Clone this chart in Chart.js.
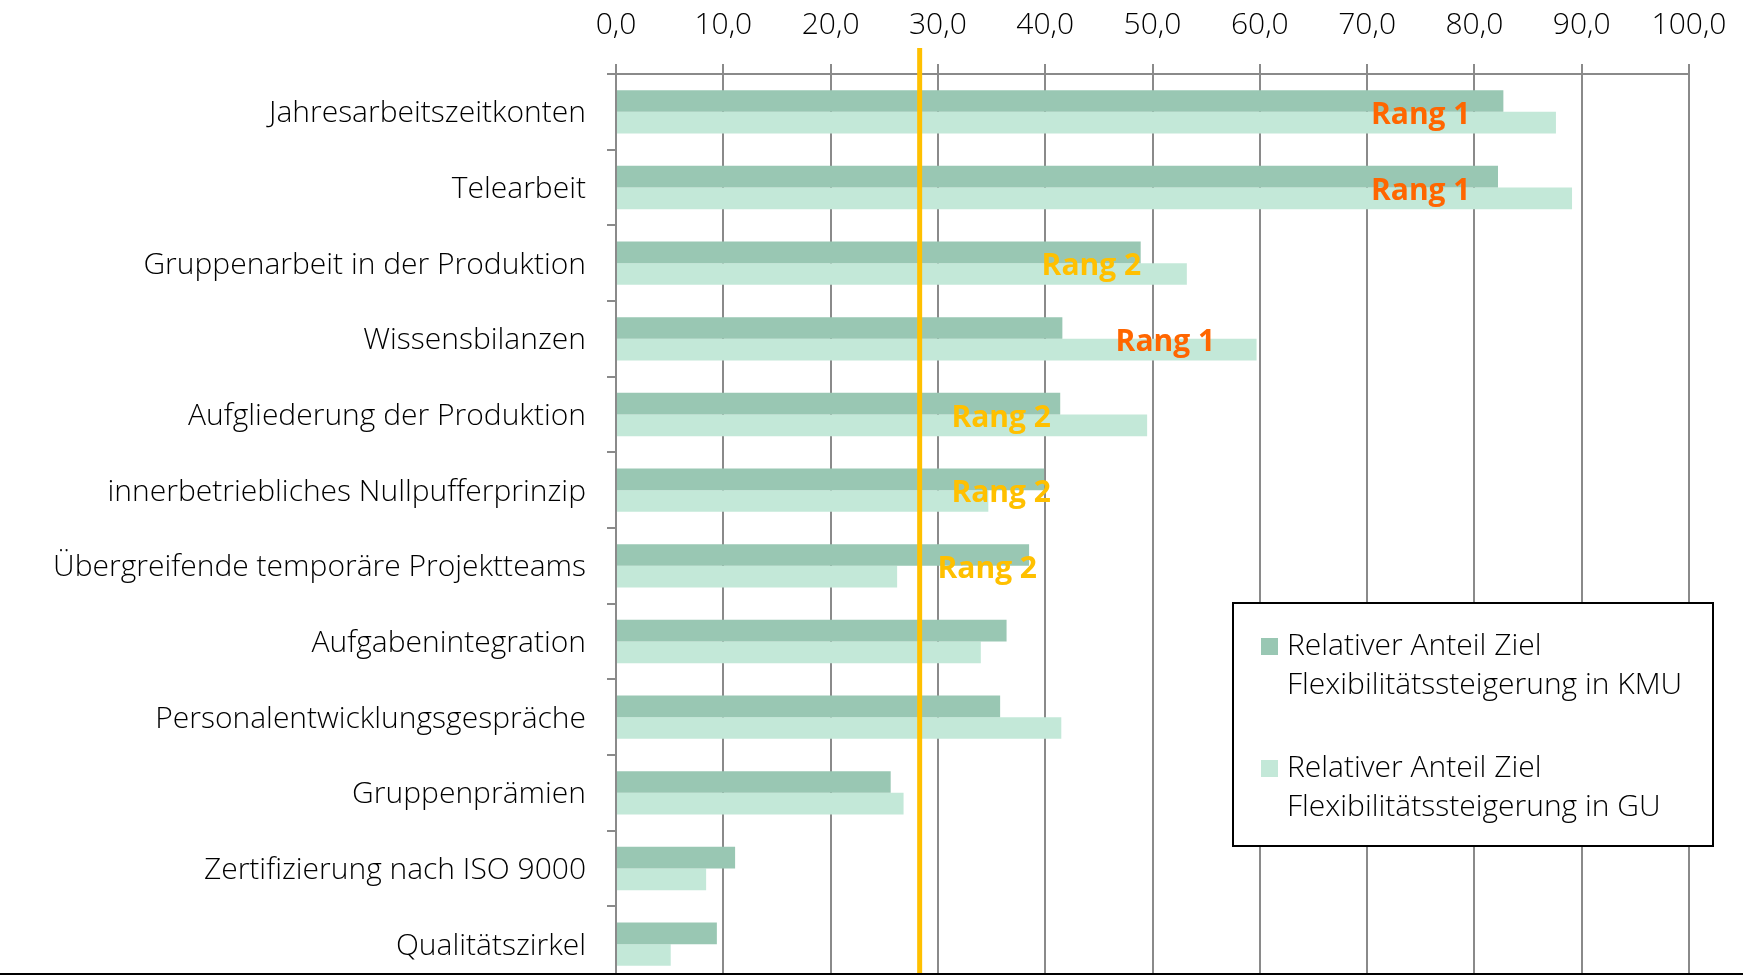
<!DOCTYPE html>
<html lang="de">
<head>
<meta charset="utf-8">
<title>Ziel Flexibilitätssteigerung – KMU und GU</title>
<script src="https://cdn.jsdelivr.net/npm/chart.js@4.4.1/dist/chart.umd.min.js"></script>
<style>
  html, body { margin: 0; padding: 0; background: #ffffff; overflow: hidden; }
  #chart { display: block; }
</style>
</head>
<body>
<canvas id="chart" width="1743" height="990"></canvas>
<script>
// ---- data -------------------------------------------------------------
const categories = [
  'Jahresarbeitszeitkonten',
  'Telearbeit',
  'Gruppenarbeit in der Produktion',
  'Wissensbilanzen',
  'Aufgliederung der Produktion',
  'innerbetriebliches Nullpufferprinzip',
  'Übergreifende temporäre Projektteams',
  'Aufgabenintegration',
  'Personalentwicklungsgespräche',
  'Gruppenprämien',
  'Zertifizierung nach ISO 9000',
  'Qualitätszirkel'
];
const kmuValues = [82.7, 82.2, 48.9, 41.6, 41.4, 39.9, 38.5, 36.4, 35.8, 25.6, 11.1, 9.4];
const guValues  = [87.6, 89.1, 53.2, 59.7, 49.5, 34.7, 26.2, 34.0, 41.5, 26.8, 8.4, 5.1];
const kmuLegend = ['Relativer Anteil Ziel', 'Flexibilitätssteigerung in KMU'];
const guLegend  = ['Relativer Anteil Ziel', 'Flexibilitätssteigerung in GU'];
const xTickValues = [0, 10, 20, 30, 40, 50, 60, 70, 80, 90, 100];
// rank annotations: text and where it sits on the value axis (label centre)
const rankText   = ['Rang 1', 'Rang 1', 'Rang 2', 'Rang 1', 'Rang 2', 'Rang 2', 'Rang 2', '', '', '', '', ''];
const rankAnchor = [75.0, 75.0, 44.3, 51.2, 35.9, 35.9, 34.6, null, null, null, null, null];
// overall average shown as a vertical marker line
const averageValue = 28.3;

// ---- styling ----------------------------------------------------------
const FONT = '"Open Sans", "Noto Sans", "DejaVu Sans", sans-serif';
const GRID = '#8a8a8a';
const KMU_COLOR = '#99c7b3';
const GU_COLOR = '#c3e8d8';
const RANK_COLORS = { 'Rang 1': '#ff6600', 'Rang 2': '#ffc000' };
const LINE_COLOR = '#ffc000';

// vertical average line, drawn over the bars
const averageLinePlugin = {
  id: 'averageLine',
  afterDatasetsDraw(chart) {
    const { ctx } = chart;
    const x = chart.scales.x.getPixelForValue(averageValue);
    ctx.save();
    ctx.strokeStyle = LINE_COLOR;
    ctx.lineWidth = 5;
    ctx.beginPath();
    ctx.moveTo(x, 48);
    ctx.lineTo(x, chart.height);
    ctx.stroke();
    ctx.restore();
  }
};

// "Rang" annotations placed in data space
const rankLabelPlugin = {
  id: 'rankLabels',
  afterDatasetsDraw(chart) {
    const { ctx } = chart;
    const xs = chart.scales.x, ys = chart.scales.y;
    ctx.save();
    ctx.font = 'bold 30px ' + FONT;
    ctx.textAlign = 'center';
    ctx.textBaseline = 'alphabetic';
    rankText.forEach((t, i) => {
      if (!t || rankAnchor[i] == null) return;
      ctx.fillStyle = RANK_COLORS[t];
      ctx.fillText(t, xs.getPixelForValue(rankAnchor[i]), ys.getPixelForValue(i) + 12);
    });
    ctx.restore();
  }
};

// boxed legend with two-line entries
const boxLegendPlugin = {
  id: 'boxLegend',
  afterDraw(chart) {
    const { ctx } = chart;
    const box = { x: 1233, y: 603, w: 480, h: 243 };
    ctx.save();
    ctx.fillStyle = '#ffffff';
    ctx.fillRect(box.x, box.y, box.w, box.h);
    ctx.strokeStyle = '#000000';
    ctx.lineWidth = 2;
    ctx.strokeRect(box.x, box.y, box.w, box.h);
    ctx.font = '300 30px ' + FONT;
    ctx.textAlign = 'left';
    ctx.textBaseline = 'alphabetic';
    const entries = chart.data.datasets.map(d => ({ lines: d.legendLines, color: d.backgroundColor }));
    const firstBaseline = [655, 777];
    entries.forEach((e, k) => {
      const b = firstBaseline[k];
      ctx.fillStyle = e.color;
      ctx.fillRect(box.x + 28, b - 17, 17, 17);
      ctx.fillStyle = '#000000';
      e.lines.forEach((ln, j) => ctx.fillText(ln, box.x + 54, b + j * 39));
    });
    // frame line along the lower edge
    ctx.fillStyle = '#000000';
    ctx.fillRect(0, 973, chart.width, 2);
    ctx.restore();
  }
};

function draw() {
  new Chart(document.getElementById('chart'), {
    type: 'bar',
    data: {
      labels: categories,
      datasets: [
        { label: kmuLegend.join(' '), legendLines: kmuLegend, data: kmuValues,
          backgroundColor: KMU_COLOR, borderWidth: 0, categoryPercentage: 0.572, barPercentage: 1.0 },
        { label: guLegend.join(' '), legendLines: guLegend, data: guValues,
          backgroundColor: GU_COLOR, borderWidth: 0, categoryPercentage: 0.572, barPercentage: 1.0 }
      ]
    },
    options: {
      indexAxis: 'y',
      responsive: false,
      maintainAspectRatio: false,
      devicePixelRatio: 1,
      animation: false,
      layout: { padding: { left: 0, top: 0, right: 54, bottom: 8 } },
      plugins: { legend: { display: false }, tooltip: { enabled: false } },
      scales: {
        x: {
          position: 'top',
          min: 0, max: 100,
          afterBuildTicks: s => { s.ticks = xTickValues.map(v => ({ value: v })); },
          afterFit: s => { s.height = 74; s.paddingLeft = 0; s.paddingRight = 0; },
          grid: { color: GRID, lineWidth: 2, tickLength: 10, drawTicks: true },
          border: { color: GRID, width: 2 },
          ticks: {
            font: { family: FONT, size: 30, weight: '300' },
            color: '#000000',
            padding: 21,
            maxRotation: 0,
            callback: v => Number(v).toFixed(1).replace('.', ',')
          }
        },
        y: {
          type: 'category',
          offset: true,
          afterFit: s => { s.width = 616; s.paddingTop = 0; s.paddingBottom = 0; },
          grid: { offset: true, drawOnChartArea: false, drawTicks: true, tickLength: 9, color: GRID, lineWidth: 2 },
          border: { color: GRID, width: 2 },
          ticks: {
            font: { family: FONT, size: 30, weight: '300' },
            color: '#000000',
            padding: 21,
            labelOffset: 2,
            autoSkip: false
          }
        }
      }
    },
    plugins: [averageLinePlugin, rankLabelPlugin, boxLegendPlugin]
  });
}

if (document.fonts && document.fonts.load) {
  Promise.all([
    document.fonts.load('300 30px "Open Sans"'),
    document.fonts.load('bold 30px "Open Sans"')
  ]).then(draw, draw);
} else {
  draw();
}
</script>
</body>
</html>
